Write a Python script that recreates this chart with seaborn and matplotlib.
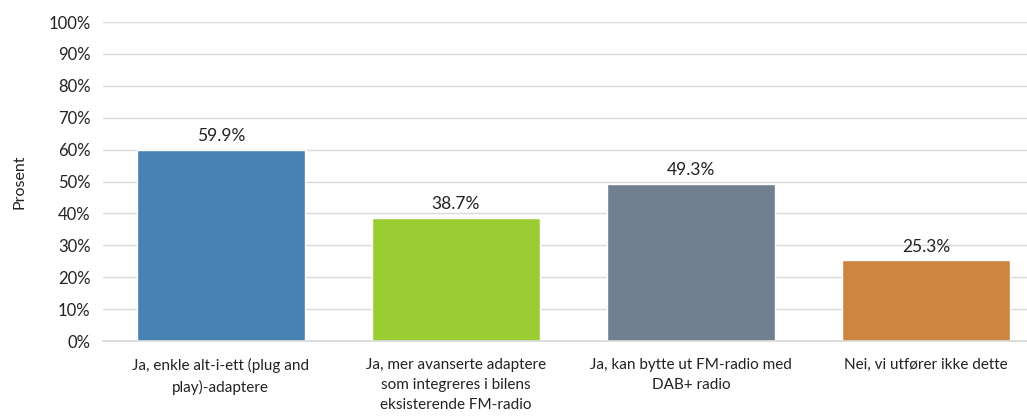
import matplotlib
matplotlib.use('Agg')
import matplotlib.pyplot as plt
import seaborn as sns
import pandas as pd
from matplotlib.ticker import PercentFormatter

categories = [
    'Ja, enkle alt-i-ett (plug and\nplay)-adaptere',
    'Ja, mer avanserte adaptere\nsom integreres i bilens\neksisterende FM-radio',
    'Ja, kan bytte ut FM-radio med\nDAB+ radio',
    'Nei, vi utfører ikke dette',
]
values = [59.9, 38.7, 49.3, 25.3]
colors = ['#4682B4', '#9ACD32', '#708090', '#CD853F']

sns.set_theme(style='white')
plt.rcParams['font.family'] = ['Lato', 'DejaVu Sans']

df = pd.DataFrame({'cat': categories, 'val': values})

fig = plt.figure(figsize=(10.27, 4.16), dpi=100)
ax = fig.add_axes([0.1005, 0.18, 0.8995, 0.767])

sns.barplot(data=df, x='cat', y='val', hue='cat', palette=colors,
            width=0.715, legend=False, ax=ax, saturation=1)

ax.set_ylim(0, 100)
ax.set_xlim(-0.5, 3.43)
ax.set_yticks(range(0, 101, 10))
ax.yaxis.set_major_formatter(PercentFormatter(decimals=0))
ax.yaxis.grid(True, color='#d9d9d9', linewidth=1)
ax.set_axisbelow(True)
for s in ['top', 'right', 'left']:
    ax.spines[s].set_visible(False)
ax.spines['bottom'].set_color('#d9d9d9')
ax.tick_params(axis='both', length=0, colors='#222222')
ax.tick_params(axis='y', pad=9, labelsize=12)
ax.tick_params(axis='x', pad=12, labelsize=11)
for lbl in ax.get_xticklabels():
    lbl.set_linespacing(1.55)
ax.set_xlabel('')
ax.set_ylabel('Prosent', fontsize=11.5, color='#222222', labelpad=16)

for bar, v in zip(ax.patches, values):
    ax.text(bar.get_x() + bar.get_width() / 2, v + 1.8, f'{v:.1f}%',
            ha='center', va='bottom', fontsize=12.5, color='#222222')

fig.savefig('out.png', dpi=100)
